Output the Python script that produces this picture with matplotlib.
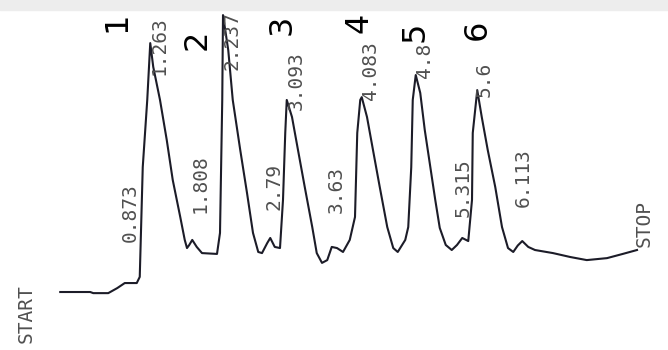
import matplotlib
matplotlib.use('Agg')
import matplotlib.pyplot as plt
from matplotlib.patches import Rectangle

# detector trace: time (min) and response (arbitrary units)
time = [0.07, 0.47, 0.51, 0.71, 0.83, 0.93, 1.03, 1.09, 1.13, 1.17, 1.23, 1.27,
        1.31, 1.40, 1.49, 1.57, 1.67, 1.73, 1.76, 1.79, 1.83, 1.89, 1.96, 2.16, 2.20,
        2.23, 2.24, 2.31, 2.37, 2.47, 2.56, 2.64, 2.71, 2.76, 2.83, 2.87, 2.93, 3.00,
        3.04, 3.07, 3.09, 3.16, 3.24, 3.33, 3.43, 3.49, 3.56, 3.63, 3.69, 3.76,
        3.84, 3.93, 4.00, 4.03, 4.07, 4.09, 4.16, 4.24, 4.33, 4.43, 4.51, 4.57,
        4.67, 4.71, 4.75, 4.77, 4.81, 4.87, 4.93, 5.00, 5.07, 5.13, 5.21, 5.29,
        5.36, 5.43, 5.51, 5.56, 5.57, 5.63, 5.69, 5.77, 5.87, 5.96, 6.04, 6.11, 6.17, 6.23,
        6.31, 6.40, 6.64, 6.87, 7.09, 7.36, 7.57, 7.76]
response = [0.0, 0.0, -0.4, -0.4, 1.4, 3.2, 3.2, 3.2, 5.4, 44.6, 68.6, 88.9,
            80.4, 68.6, 54.3, 40.0, 26.8, 18.6, 15.7, 16.8, 18.6, 16.1, 13.9, 13.6, 21.1,
            68.6, 98.9, 86.4, 68.6, 50.7, 35.4, 21.1, 14.3, 13.9, 17.5, 19.3, 16.1, 15.7,
            32.9, 56.8, 68.6, 62.5, 50.7, 37.5, 23.2, 13.9, 10.4, 11.4, 16.1, 15.7,
            14.3, 18.6, 26.8, 56.8, 68.6, 69.6, 62.5, 50.7, 37.5, 23.2, 15.7, 14.3,
            18.6, 23.2, 44.6, 68.6, 77.5, 71.1, 57.9, 45.4, 32.9, 22.9, 16.8, 15.0,
            16.8, 19.3, 18.2, 32.9, 56.8, 72.1, 62.5, 50.7, 37.5, 23.2, 15.7, 14.3, 16.6, 18.2,
            16.1, 15.0, 13.9, 12.5, 11.4, 12.1, 13.6, 15.0]

# retention times printed by the integrator
rt_values = [0.873, 1.263, 1.808, 2.237, 2.79, 3.093, 3.63, 4.083, 4.8, 5.315, 5.6, 6.113]
rt_labels = ['0.873', '1.263', '1.808', '2.237', '2.79', '3.093', '3.63', '4.083',
             '4.8', '5.315', '5.6', '6.113']
peak_ids = ['1', '2', '3', '4', '5', '6']

# where the printed texts sit (response units, bottom of the text)
rt_label_y = [17.9, 77.5, 28.2, 79.3, 29.3, 65.0, 28.2, 68.6, 76.4, 26.8, 69.6, 30.4]
peak_id_x = [0.83, 1.89, 3.03, 4.05, 4.80, 5.63]
peak_id_y = [96.4, 90.0, 95.4, 96.1, 92.9, 93.6]

fig = plt.figure(figsize=(6.68, 3.5), dpi=100)
ax = fig.add_axes([0, 0, 1, 1])
ax.set_xlim(-0.7333, 8.1733)
ax.set_ylim(-20.71, 104.29)
ax.axis('off')

# light grey strip along the top of the scan
fig.patches.append(Rectangle((0, 1 - 10 / 350), 1, 10 / 350, transform=fig.transFigure,
                             color='#ededed', zorder=0))

ax.plot(time, response, color='#1c1c28', linewidth=1.5, solid_joinstyle='round')

for t, lab, y in zip(rt_values, rt_labels, rt_label_y):
    ax.text(t, y, lab, rotation=90, ha='left', va='bottom', family='DejaVu Sans Mono',
            fontsize=14, color='#505050')

ax.text(7.73, 16.1, 'STOP', rotation=90, ha='left', va='bottom', family='DejaVu Sans Mono',
        fontsize=14, color='#505050')
ax.text(-0.51, -18.2, 'START', rotation=90, ha='left', va='bottom', family='DejaVu Sans Mono',
        fontsize=14, color='#505050')

for pid, x, y in zip(peak_ids, peak_id_x, peak_id_y):
    ax.text(x, y, pid, rotation=90, ha='center', va='center', fontsize=23, color='black')

fig.savefig('out.png', dpi=100)
